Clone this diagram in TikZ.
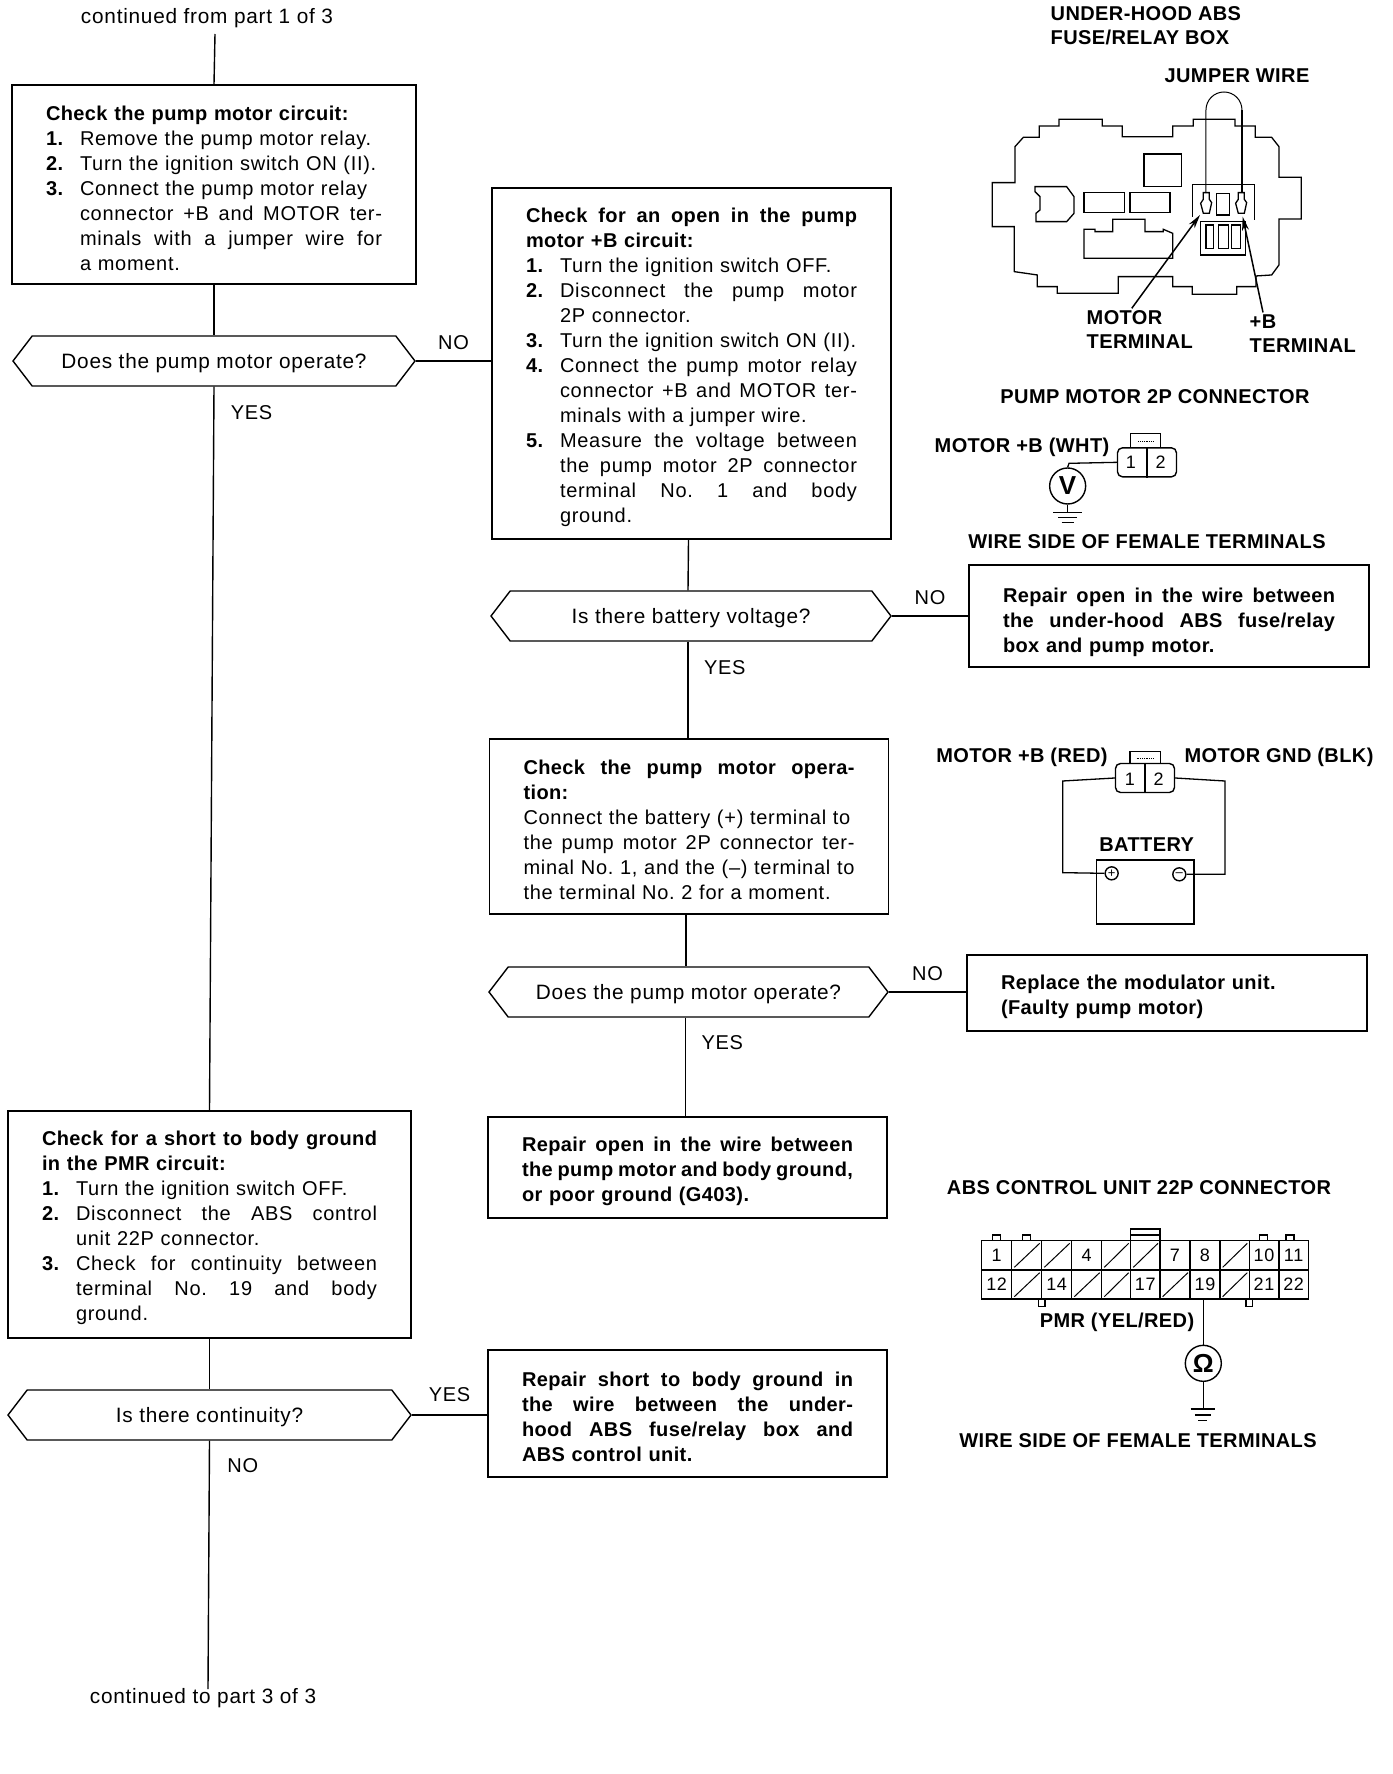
\documentclass[tikz,border=0pt]{standalone}
\usepackage{fontspec}
\setmainfont{Liberation Sans}[LetterSpace=3.6,BoldFeatures={LetterSpace=2}]
\usetikzlibrary{shapes.geometric,shapes.symbols,arrows.meta,positioning,calc}

% one list line, one continuation line, one stretched line
\newcommand{\strj}[2]{\makebox[#1][s]{\spaceskip=0pt\xspaceskip=0pt\relax #2}}
\newcommand{\nrl}[2]{\makebox[34pt][l]{\textbf{#1}}#2}
\newcommand{\nrj}[2]{\makebox[34pt][l]{\textbf{#1}}\strj{\dimexpr\hsize-34pt}{#2}}
\newcommand{\cnt}[1]{\hspace*{34pt}#1}
\newcommand{\cnj}[1]{\hspace*{34pt}\strj{\dimexpr\hsize-34pt}{#1}}
\newcommand{\jl}[1]{\strj{\hsize}{#1}}

\begin{document}
\frenchspacing
\begin{tikzpicture}[x=1pt,y=-1pt,line width=1.4pt,
txt/.style={font=\fontsize{20}{25}\selectfont, inner sep=0pt},
bigtxt/.style={font=\fontsize{20.8}{25}\selectfont, inner sep=0pt},
chkbox/.style={draw, txt, inner xsep=34pt, inner ysep=0pt, text width=332pt, align=left,
execute at begin node={\rule{0pt}{22pt}}},
hexq/.style={draw, bigtxt, shape=signal, signal to=east and west, signal pointer angle=105,
minimum width=402pt, minimum height=50pt, align=center, text height=20pt, text depth=4.5pt},
lbl/.style={font=\fontsize{20}{25}\selectfont},
capt/.style={font=\fontsize{20}{24}\selectfont\bfseries, inner sep=0pt, align=left},
wire/.style={line width=1.3pt},
flow/.style={line width=1.4pt},
pinbox/.style={draw, rounded corners=5pt, minimum width=59pt, minimum height=29pt, inner sep=0pt},
pinnum/.style={font=\fontsize{18}{22}\selectfont, inner sep=0pt},
meter/.style={draw, circle, minimum size=36pt, inner sep=0pt, font=\fontsize{26}{26}\selectfont\bfseries},
tip/.style={-{Stealth[length=14pt,width=7pt]}, line width=1.5pt}
]
\useasboundingbox (0,0) rectangle (1392,1774);

% left column
\node[bigtxt] (from) at (207,18) {continued from part 1 of 3};
\coordinate (fromend) at (215,34);
\node[chkbox, text width=336pt, minimum height=199pt, execute at begin node={\rule{0pt}{18pt}}] (pumpchk) at (214,184.5)
{\textbf{Check the pump motor circuit:}\\
\nrl{1.}{Remove the pump motor relay.}\\
\nrl{2.}{Turn the ignition switch ON (II).}\\
\nrl{3.}{Connect the pump motor relay}\\
\cnj{connector +B and MOTOR ter-}\\
\cnj{minals with a jumper wire for}\\
\cnt{a moment.}};
\node[hexq] (opq1) at (214,361) {Does the pump motor operate?};
\node[chkbox, text width=335pt, minimum height=227pt] (shortchk) at (209.5,1224.5)
{\textbf{\jl{Check for a short to body ground}}\\
\textbf{in the PMR circuit:}\\
\nrl{1.}{Turn the ignition switch OFF.}\\
\nrj{2.}{Disconnect the ABS control}\\
\cnt{unit 22P connector.}\\
\nrj{3.}{Check for continuity between}\\
\cnj{terminal No. 19 and body}\\
\cnt{ground.}};
\node[hexq, minimum width=403pt] (contq) at (209.5,1415) {Is there continuity?};
\node[bigtxt] (to) at (203,1698) {continued to part 3 of 3};
\coordinate (toend) at (208,1689);

% middle column
\node[chkbox, text width=331pt, minimum height=351pt] (openchk) at (691.5,363.5)
{\textbf{\jl{Check for an open in the pump}}\\
\textbf{motor +B circuit:}\\
\nrl{1.}{Turn the ignition switch OFF.}\\
\nrj{2.}{Disconnect the pump motor}\\
\cnt{2P connector.}\\
\nrl{3.}{Turn the ignition switch ON (II).}\\
\nrj{4.}{Connect the pump motor relay}\\
\cnj{connector +B and MOTOR ter-}\\
\cnt{minals with a jumper wire.}\\
\nrj{5.}{Measure the voltage between}\\
\cnj{the pump motor 2P connector}\\
\cnj{terminal No. 1 and body}\\
\cnt{ground.}};
\node[hexq, minimum width=400pt] (battq) at (691,616) {Is there battery voltage?};
\node[chkbox, text width=331pt, minimum height=175pt] (motorchk) at (689,826.5)
{\textbf{\jl{Check the pump motor opera-}}\\
\textbf{tion:}\\
Connect the battery (+) terminal to\\
\jl{the pump motor 2P connector ter-}\\
\jl{minal No. 1, and the (--) terminal to}\\
the terminal No. 2 for a moment.};
\node[hexq, minimum width=399pt] (opq2) at (688.5,992) {Does the pump motor operate?};
\node[chkbox, text width=331pt, minimum height=101pt, font=\fontsize{20}{25}\selectfont\bfseries] (gndfix) at (687.5,1167.5)
{\jl{Repair open in the wire between}\\
\jl{the pump motor and body ground,}\\
or poor ground (G403).};
\node[chkbox, text width=331pt, minimum height=127pt, font=\fontsize{20}{25}\selectfont\bfseries] (shortfix) at (687.5,1413.5)
{\jl{Repair short to body ground in}\\
\jl{the wire between the under-}\\
\jl{hood ABS fuse/relay box and}\\
ABS control unit.};

% right column
\node[chkbox, text width=332pt, minimum height=102pt, font=\fontsize{20}{25}\selectfont\bfseries, execute at begin node={\rule{0pt}{27pt}}] (wirefix) at (1169,616)
{\jl{Repair open in the wire between}\\
\jl{the under-hood ABS fuse/relay}\\
box and pump motor.};
\node[chkbox, text width=332pt, minimum height=76pt, font=\fontsize{20}{25}\selectfont\bfseries] (modfix) at (1167,993)
{Replace the modulator unit.\\
(Faulty pump motor)};

\draw[flow] (fromend) -- (pumpchk.north);
\draw[flow] (pumpchk.south) -- (opq1.north);
\draw[flow] (opq1.south) -- node[pos=0.033,right=13pt,lbl,yshift=-2pt]{YES} (shortchk.north);
\draw[flow] (opq1.east) -- node[above=7pt,lbl]{NO} (opq1.east -| openchk.west);
\draw[flow] (shortchk.south) -- (contq.north);
\draw[flow] (contq.south) -- node[pos=0.1,right=14pt,lbl]{NO} (toend);
\draw[flow] (contq.east) -- node[above=9pt,lbl]{YES} (contq.east -| shortfix.west);
\draw[flow] ([xshift=-3pt]openchk.south) -- ([xshift=-3pt]battq.north);
\draw[flow] ([xshift=-3pt]battq.south) -- node[pos=0.27,right=12pt,lbl]{YES} ([xshift=-3pt]battq.south |- motorchk.north);
\draw[flow] (battq.east) -- node[above=7pt,lbl]{NO} (wirefix.west);
\draw[flow] ([xshift=-3pt]motorchk.south) -- ([xshift=-3pt]motorchk.south |- opq2.north);
\draw[flow] ([xshift=-3pt]opq2.south) -- node[pos=0.25,right=12pt,lbl]{YES} ([xshift=-3pt]opq2.south |- gndfix.north);
\draw[flow] (opq2.east) -- node[above=7pt,lbl]{NO} (opq2.east -| modfix.west);

% fuse/relay box
\node[capt, anchor=west] (fusecap) at (1050,26) {UNDER-HOOD ABS\\FUSE/RELAY BOX};
\node[capt] (jumpcap) at (1237,76) {JUMPER WIRE};
\node[capt, anchor=west] (motorterm) at (1086,330) {MOTOR\\TERMINAL};
\node[capt, anchor=west] (bterm) at (1249,334) {+B\\TERMINAL};
\begin{scope}[shift={(960,0)},x=0.3333pt,y=-0.3333pt]
\draw[wire] (97,548) -- (165,548) -- (165,440) -- (190,412) -- (238,412) -- (238,378) -- (297,378)
  -- (297,358) -- (427,358) -- (427,378) -- (487,378) -- (487,410) -- (638,410) -- (638,378)
  -- (700,378) -- (700,358) -- (825,358) -- (825,378) -- (886,378) -- (886,412) -- (935,412)
  -- (957,440) -- (957,532) -- (1024,532) -- (1024,657) -- (957,657) -- (957,795) -- (935,825)
  -- (888,828) -- (888,860) -- (830,860) -- (830,883) -- (697,883) -- (697,860) -- (638,860)
  -- (638,830) -- (475,830) -- (475,880) -- (292,880) -- (292,860) -- (232,860) -- (232,825)
  -- (163,815) -- (163,680) -- (97,680) -- cycle;
\draw[wire] (552,462) rectangle (665,560);
\draw[wire] (372,578) rectangle (493,638);
\draw[wire] (510,578) rectangle (630,638);
\draw[wire] (225,560) -- (320,560) -- (342,590) -- (342,640) -- (320,665) -- (228,665) -- (228,640)
  -- (240,630) -- (240,590) -- (225,575) -- cycle;
\draw[wire] (372,775) -- (372,688) -- (405,688) -- (405,695) -- (458,695) -- (458,658) -- (555,658)
  -- (555,695) -- (610,695) -- (610,688) -- (638,700) -- (638,775) -- cycle;
\draw[wire] (698,650) -- (698,553) -- (883,553) -- (883,660);
\draw[wire] (722,665) rectangle (857,765);
\foreach \xa/\xb in {738/760,775/805,815/842}
  \draw[wire] (\xa,675) rectangle (\xb,745);
\draw[wire] (770,580) rectangle (808,645);
\foreach \px in {738,843}
  \draw[wire] (\px-8,578) -- (\px+10,578) -- (\px+10,598) -- (\px+17,608) -- (\px+10,640)
    -- (\px-8,640) -- (\px-16,610) -- (\px-8,598) -- cycle;
\draw[line width=1pt] (738,578) -- (738,330) arc[start angle=180,end angle=0,radius=18pt];
\draw[line width=1.8pt] (846,330) -- (846,578);
\coordinate (motorpin) at (720,645);
\coordinate (bpin) at (848,650);
\end{scope}
\draw[tip] (motorterm.north) ++(-8pt,2pt) -- (motorpin);
\draw[tip] (bterm.north west) ++(14pt,2pt) -- (bpin);

% pump motor 2P connector
\node[capt] (pmcap) at (1155,397) {PUMP MOTOR 2P CONNECTOR};
\node[capt] (whtcap) at (1022,447) {MOTOR +B (WHT)};
\node[capt] (sidecap1) at (1147,542) {WIRE SIDE OF FEMALE TERMINALS};
\begin{scope}[shift={(920,380)},x=0.3333pt,y=-0.3333pt]
\node[pinbox] (conn1) at (681,247) {};
\draw[wire] (conn1.north) -- (conn1.south);
\node[pinnum] (conn1a) at (633,248) {1};
\node[pinnum] (conn1b) at (722,248) {2};
\draw[wire] (632,203) -- (632,160) -- (722,160) -- (722,203);
\draw[line width=0.8pt,densely dotted] (655,183) -- (700,183);
\node[meter] (vmeter) at (443,318) {V};
\draw[wire] (conn1.west) -- (447,250) -- (vmeter.north);
\coordinate (gnd1) at (443,398);
\draw[wire] (vmeter.south) -- (gnd1);
\draw[wire] (400,398) -- (487,398);
\draw[wire] (415,412) -- (470,412);
\draw[wire] (425,428) -- (462,428);
\end{scope}

% battery test
\node[capt] (redcap) at (1022,757) {MOTOR +B (RED)};
\node[capt] (blkcap) at (1279,757) {MOTOR GND (BLK)};
\begin{scope}[shift={(920,730)},x=0.3333pt,y=-0.3333pt]
\node[pinbox] (conn2) at (675,144) {};
\draw[wire] (conn2.north) -- (conn2.south);
\node[pinnum] (conn2a) at (630,148) {1};
\node[pinnum] (conn2b) at (716,148) {2};
\draw[wire] (630,100) -- (630,65) -- (722,65) -- (722,100);
\draw[line width=0.8pt,densely dotted] (650,85) -- (700,85);
\node[capt] (battcap) at (680,345) {BATTERY};
\draw[wire] (530,390) rectangle (822,582);
\node[draw, circle, minimum size=13pt, inner sep=0pt, font=\fontsize{13}{13}\selectfont] (plus) at (575,430) {+};
\node[draw, circle, minimum size=13pt, inner sep=0pt, font=\fontsize{13}{13}\selectfont] (minus) at (778,433) {--};
\draw[wire] (conn2.west) -- (428,153) -- (428,428) -- (plus.west);
\draw[wire] (conn2.east) -- (915,153) -- (915,433) -- (minus.east);
\end{scope}

% ABS control unit 22P connector
\node[capt] (abscap) at (1139,1188) {ABS CONTROL UNIT 22P CONNECTOR};
\node[capt] (pmrcap) at (1117,1322) {PMR (YEL/RED)};
\node[capt] (sidecap2) at (1138,1441) {WIRE SIDE OF FEMALE TERMINALS};
\begin{scope}[shift={(940,1170)},x=0.3333pt,y=-0.3333pt]
\draw[wire] (125,212) rectangle (1105,388);
\draw[wire] (125,300) -- (1105,300);
\draw[line width=2pt] (125,388) -- (1105,388);
\foreach \cx in {215,305,395,485,572,660,750,840,928,1017}
  \draw[wire] (\cx,212) -- (\cx,388);
% cells with a pin number
\foreach \cx/\cy/\pin in {170/256/1,440/256/4,705/256/7,795/256/8,972/256/10,1061/256/11,
  170/344/12,350/344/14,616/344/17,795/344/19,972/344/21,1061/344/22}
  \node[pinnum] (p\pin) at (\cx,\cy) {\pin};
% empty cells
\foreach \xa/\xb/\ya/\yb in {215/305/292/220,305/395/292/220,485/572/292/220,572/660/292/220,840/928/292/220,
  215/305/380/308,395/485/380/308,485/572/380/308,660/750/380/308,840/928/380/308}
  \draw[line width=1pt] (\xa+8,\ya) -- (\xb-6,\yb);
% latches
\foreach \cx in {170,260,970,1050}
  \draw[wire] (\cx-12,212) -- (\cx-12,195) -- (\cx+12,195) -- (\cx+12,212);
\foreach \cx in {305,928}
  \draw[wire] (\cx-10,388) -- (\cx-10,410) -- (\cx+10,410) -- (\cx+10,388);
\draw[wire] (572,212) -- (572,177) -- (660,177) -- (660,212);
\draw[wire] (572,195) -- (660,195);
\node[meter] (ohm) at (790,580) {Ω};
\coordinate (pin19) at (790,388);
\coordinate (gnd2) at (790,717);
\draw[wire] (pin19) -- (ohm.north);
\draw[wire] (ohm.south) -- (gnd2);
\draw[wire] (752,717) -- (825,717);
\draw[wire] (765,735) -- (812,735);
\draw[wire] (775,752) -- (800,752);
\end{scope}
\end{tikzpicture}
\end{document}
